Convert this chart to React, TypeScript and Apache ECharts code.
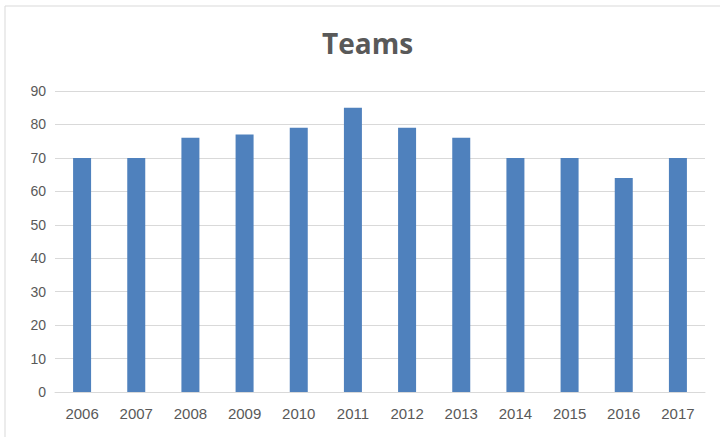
import React, { useEffect, useRef } from "react";
import * as echarts from "echarts";

const categories = ["2006", "2007", "2008", "2009", "2010", "2011", "2012", "2013", "2014", "2015", "2016", "2017"];
const teams = [70, 70, 76, 77, 79, 85, 79, 76, 70, 70, 64, 70];
const title = "Teams";

export default function App() {
  const ref = useRef<HTMLDivElement>(null);
  useEffect(() => {
    const chart = echarts.init(ref.current!, null, { renderer: "svg" });
    chart.setOption({
      animation: false,
      backgroundColor: "#ffffff",
      title: {
        text: title,
        left: 317,
        top: 24,
        textStyle: { fontFamily: "Open Sans", fontSize: 28, fontWeight: "bold", color: "#595959" },
      },
      graphic: [
        {
          type: "rect",
          shape: { x: 5, y: 6, width: 800, height: 500 },
          style: { fill: "none", stroke: "#d9d9d9", lineWidth: 1 },
          silent: true,
        },
      ],
      grid: { left: 55, right: 15, top: 91, bottom: 45 },
      xAxis: {
        type: "category",
        data: categories,
        axisLine: { lineStyle: { color: "#d9d9d9" } },
        axisTick: { show: false },
        axisLabel: { color: "#595959", fontFamily: "Liberation Sans", fontSize: 15, margin: 14 },
      },
      yAxis: {
        type: "value",
        min: 0,
        max: 90,
        interval: 10,
        axisLine: { show: false },
        axisTick: { show: false },
        splitLine: { lineStyle: { color: "#d9d9d9" } },
        axisLabel: { color: "#595959", fontFamily: "Liberation Sans", fontSize: 14, margin: 9 },
      },
      series: [
        {
          type: "bar",
          data: teams,
          barWidth: 18,
          itemStyle: { color: "#4f81bd" },
        },
      ],
    });
    return () => chart.dispose();
  }, []);
  return <div ref={ref} style={{ position: "fixed", left: 0, top: 0, width: 720, height: 437 }} />;
}
